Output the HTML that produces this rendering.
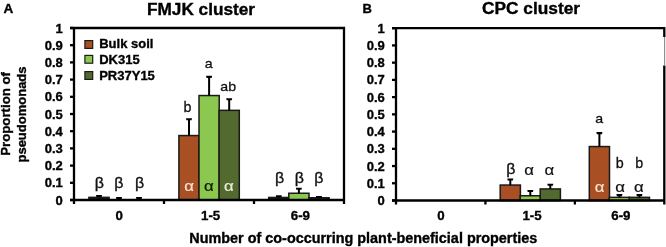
<!DOCTYPE html>
<html><head><meta charset="utf-8"><style>
html,body{margin:0;padding:0;background:#fff;width:666px;height:247px;overflow:hidden}
svg{display:block;will-change:transform;filter:blur(0.3px)}
</style></head><body>
<svg width="666" height="247" viewBox="0 0 666 247">
<style>
text{font-family:"Liberation Sans",sans-serif;}
.tl,.cl,.tt,.lg{stroke:#000;stroke-width:0.35px}
.ax{stroke:#000;stroke-width:2.3;fill:none}
.tl{font-weight:bold;font-size:13px}
.cl{font-weight:bold;font-size:13.3px}
.g,.gb{font-size:13.6px;stroke-width:0.3px}
.bt{font-size:15px;stroke-width:0.35px}
.al{font-size:16px;stroke-width:0.2px}
.tt{font-weight:bold;font-size:16px}
.lg{font-weight:bold;font-size:13px}
</style>
<text x="3.4" y="12.7" class="lg" style="font-size:13.5px">A</text>
<text x="362.5" y="12.7" class="lg">B</text>
<text x="147" y="14.8" class="tt" textLength="108" lengthAdjust="spacingAndGlyphs">FMJK cluster</text>
<text x="482" y="14.4" class="tt" textLength="98" lengthAdjust="spacingAndGlyphs">CPC cluster</text>
<g transform="translate(10.0 113.9) rotate(-90)"><text x="0" y="0" class="lg" text-anchor="middle" textLength="83.6" lengthAdjust="spacingAndGlyphs">Proportion of</text></g>
<g transform="translate(26.0 114.5) rotate(-90)"><text x="0" y="0" class="lg" text-anchor="middle">pseudomonads</text></g>
<text x="189.3" y="243" class="lg" style="font-size:14.1px" textLength="348" lengthAdjust="spacingAndGlyphs">Number of co-occurring plant-beneficial properties</text>
<rect x="88.90" y="197.35" width="20.20" height="2.65" fill="#1a1a1a" stroke="#1a1a1a" stroke-width="1.5"/>
<line x1="99.00" y1="196.00" x2="99.00" y2="197.35" stroke="#000" stroke-width="2"/>
<path d="M96.00 195.00 H102.00 L101.60 197.10 H96.40 Z" fill="#000"/>
<line x1="119.00" y1="198.10" x2="119.00" y2="198.80" stroke="#000" stroke-width="2"/>
<path d="M116.00 197.10 H122.00 L121.60 199.20 H116.40 Z" fill="#000"/>
<line x1="139.00" y1="198.10" x2="139.00" y2="198.80" stroke="#000" stroke-width="2"/>
<path d="M136.00 197.10 H142.00 L141.60 199.20 H136.40 Z" fill="#000"/>
<rect x="178.90" y="135.55" width="20.20" height="64.45" fill="#a84f24" stroke="#1a1a1a" stroke-width="1.5"/>
<line x1="189.00" y1="119.20" x2="189.00" y2="135.55" stroke="#000" stroke-width="2"/>
<path d="M186.00 118.20 H192.00 L191.60 120.30 H186.40 Z" fill="#000"/>
<rect x="199.00" y="95.55" width="20.20" height="104.45" fill="#8cc84f" stroke="#1a1a1a" stroke-width="1.5"/>
<line x1="209.10" y1="76.80" x2="209.10" y2="95.55" stroke="#000" stroke-width="2"/>
<path d="M206.10 75.80 H212.10 L211.70 77.90 H206.50 Z" fill="#000"/>
<rect x="219.10" y="110.35" width="20.20" height="89.65" fill="#526a2e" stroke="#1a1a1a" stroke-width="1.5"/>
<line x1="229.20" y1="99.20" x2="229.20" y2="110.35" stroke="#000" stroke-width="2"/>
<path d="M226.20 98.20 H232.20 L231.80 100.30 H226.60 Z" fill="#000"/>
<rect x="268.70" y="197.45" width="20.20" height="2.55" fill="#1a1a1a" stroke="#1a1a1a" stroke-width="1.5"/>
<line x1="278.80" y1="196.20" x2="278.80" y2="197.45" stroke="#000" stroke-width="2"/>
<path d="M275.80 195.20 H281.80 L281.40 197.30 H276.20 Z" fill="#000"/>
<rect x="288.80" y="193.25" width="20.20" height="6.75" fill="#8cc84f" stroke="#1a1a1a" stroke-width="1.5"/>
<line x1="298.90" y1="188.70" x2="298.90" y2="193.25" stroke="#000" stroke-width="2"/>
<path d="M295.90 187.70 H301.90 L301.50 189.80 H296.30 Z" fill="#000"/>
<rect x="308.90" y="197.75" width="20.20" height="2.25" fill="#1a1a1a" stroke="#1a1a1a" stroke-width="1.5"/>
<line x1="319.00" y1="196.90" x2="319.00" y2="197.75" stroke="#000" stroke-width="2"/>
<path d="M316.00 195.90 H322.00 L321.60 198.00 H316.40 Z" fill="#000"/>
<line x1="70" y1="200.00" x2="74" y2="200.00" class="ax"/>
<text x="62.8" y="204.60" class="tl" text-anchor="end">0</text>
<line x1="70" y1="182.80" x2="74" y2="182.80" class="ax"/>
<text x="62.8" y="187.40" class="tl" text-anchor="end">0.1</text>
<line x1="70" y1="165.60" x2="74" y2="165.60" class="ax"/>
<text x="62.8" y="170.20" class="tl" text-anchor="end">0.2</text>
<line x1="70" y1="148.40" x2="74" y2="148.40" class="ax"/>
<text x="62.8" y="153.00" class="tl" text-anchor="end">0.3</text>
<line x1="70" y1="131.20" x2="74" y2="131.20" class="ax"/>
<text x="62.8" y="135.80" class="tl" text-anchor="end">0.4</text>
<line x1="70" y1="114.00" x2="74" y2="114.00" class="ax"/>
<text x="62.8" y="118.60" class="tl" text-anchor="end">0.5</text>
<line x1="70" y1="96.80" x2="74" y2="96.80" class="ax"/>
<text x="62.8" y="101.40" class="tl" text-anchor="end">0.6</text>
<line x1="70" y1="79.60" x2="74" y2="79.60" class="ax"/>
<text x="62.8" y="84.20" class="tl" text-anchor="end">0.7</text>
<line x1="70" y1="62.40" x2="74" y2="62.40" class="ax"/>
<text x="62.8" y="67.00" class="tl" text-anchor="end">0.8</text>
<line x1="70" y1="45.20" x2="74" y2="45.20" class="ax"/>
<text x="62.8" y="49.80" class="tl" text-anchor="end">0.9</text>
<line x1="70" y1="28.00" x2="74" y2="28.00" class="ax"/>
<text x="62.8" y="32.60" class="tl" text-anchor="end">1</text>
<path d="M70 28 H344 V204 M74 28 V204 M70 200 H344" class="ax" fill="none"/>
<line x1="164.00" y1="200" x2="164.00" y2="204" class="ax"/>
<line x1="254.00" y1="200" x2="254.00" y2="204" class="ax"/>
<text x="119.10" y="219.6" class="cl" text-anchor="middle">0</text>
<text x="210.60" y="219.6" class="cl" text-anchor="middle">1-5</text>
<text x="300.40" y="219.6" class="cl" text-anchor="middle">6-9</text>
<text x="99.4" y="187.5" class="bt" style="font-size:15.2px" text-anchor="middle" fill="#111" stroke="#111" textLength="9.18" lengthAdjust="spacingAndGlyphs">β</text>
<text x="118.75" y="187.5" class="bt" style="font-size:15.2px" text-anchor="middle" fill="#111" stroke="#111" textLength="9.18" lengthAdjust="spacingAndGlyphs">β</text>
<text x="139.6" y="187.5" class="bt" style="font-size:15.2px" text-anchor="middle" fill="#111" stroke="#111" textLength="9.18" lengthAdjust="spacingAndGlyphs">β</text>
<text x="187.6" y="111.7" class="gb" style="font-size:14.6px" text-anchor="middle" fill="#111" stroke="#111" textLength="7.96" lengthAdjust="spacingAndGlyphs">b</text>
<text x="208.7" y="67.9" class="g" style="font-size:13.5px" text-anchor="middle" fill="#111" stroke="#111" textLength="7.88" lengthAdjust="spacingAndGlyphs">a</text>
<text x="228.2" y="90.9" class="g" style="font-size:13.5px" text-anchor="middle" fill="#111" stroke="#111" textLength="15.77" lengthAdjust="spacingAndGlyphs">ab</text>
<text x="189" y="190.8" class="al" style="font-size:14.7px" text-anchor="middle" fill="#f6e2d2" stroke="#f6e2d2" textLength="9.69" lengthAdjust="spacingAndGlyphs">α</text>
<text x="208.95" y="190.8" class="al" style="font-size:14.7px" text-anchor="middle" fill="#0c1a08" stroke="#0c1a08" textLength="9.69" lengthAdjust="spacingAndGlyphs">α</text>
<text x="228.85" y="190.8" class="al" style="font-size:14.7px" text-anchor="middle" fill="#e6eed8" stroke="#e6eed8" textLength="9.69" lengthAdjust="spacingAndGlyphs">α</text>
<text x="279.5" y="182.6" class="bt" style="font-size:15.2px" text-anchor="middle" fill="#111" stroke="#111" textLength="9.18" lengthAdjust="spacingAndGlyphs">β</text>
<text x="299.3" y="182.6" class="bt" style="font-size:15.2px" text-anchor="middle" fill="#111" stroke="#111" textLength="9.18" lengthAdjust="spacingAndGlyphs">β</text>
<text x="318.75" y="182.6" class="bt" style="font-size:15.2px" text-anchor="middle" fill="#111" stroke="#111" textLength="9.18" lengthAdjust="spacingAndGlyphs">β</text>
<rect x="500.20" y="185.05" width="20.20" height="15.45" fill="#a84f24" stroke="#1a1a1a" stroke-width="1.5"/>
<line x1="510.30" y1="179.50" x2="510.30" y2="185.05" stroke="#000" stroke-width="2"/>
<path d="M507.30 178.50 H513.30 L512.90 180.60 H507.70 Z" fill="#000"/>
<rect x="520.20" y="195.75" width="20.20" height="4.75" fill="#8cc84f" stroke="#1a1a1a" stroke-width="1.5"/>
<line x1="530.30" y1="190.90" x2="530.30" y2="195.75" stroke="#000" stroke-width="2"/>
<path d="M527.30 189.90 H533.30 L532.90 192.00 H527.70 Z" fill="#000"/>
<rect x="540.20" y="188.95" width="20.20" height="11.55" fill="#526a2e" stroke="#1a1a1a" stroke-width="1.5"/>
<line x1="550.30" y1="184.70" x2="550.30" y2="188.95" stroke="#000" stroke-width="2"/>
<path d="M547.30 183.70 H553.30 L552.90 185.80 H547.70 Z" fill="#000"/>
<rect x="589.30" y="146.55" width="20.20" height="53.95" fill="#a84f24" stroke="#1a1a1a" stroke-width="1.5"/>
<line x1="599.40" y1="133.10" x2="599.40" y2="146.55" stroke="#000" stroke-width="2"/>
<path d="M596.40 132.10 H602.40 L602.00 134.20 H596.80 Z" fill="#000"/>
<rect x="609.30" y="197.35" width="20.20" height="3.15" fill="#8cc84f" stroke="#1a1a1a" stroke-width="1.5"/>
<line x1="619.40" y1="195.10" x2="619.40" y2="197.35" stroke="#000" stroke-width="2"/>
<path d="M616.40 194.10 H622.40 L622.00 196.20 H616.80 Z" fill="#000"/>
<rect x="629.30" y="197.35" width="20.20" height="3.15" fill="#526a2e" stroke="#1a1a1a" stroke-width="1.5"/>
<line x1="639.40" y1="195.10" x2="639.40" y2="197.35" stroke="#000" stroke-width="2"/>
<path d="M636.40 194.10 H642.40 L642.00 196.20 H636.80 Z" fill="#000"/>
<line x1="392" y1="200.50" x2="396" y2="200.50" class="ax"/>
<text x="384.8" y="205.10" class="tl" text-anchor="end">0</text>
<line x1="392" y1="183.27" x2="396" y2="183.27" class="ax"/>
<text x="384.8" y="187.87" class="tl" text-anchor="end">0.1</text>
<line x1="392" y1="166.04" x2="396" y2="166.04" class="ax"/>
<text x="384.8" y="170.64" class="tl" text-anchor="end">0.2</text>
<line x1="392" y1="148.81" x2="396" y2="148.81" class="ax"/>
<text x="384.8" y="153.41" class="tl" text-anchor="end">0.3</text>
<line x1="392" y1="131.58" x2="396" y2="131.58" class="ax"/>
<text x="384.8" y="136.18" class="tl" text-anchor="end">0.4</text>
<line x1="392" y1="114.35" x2="396" y2="114.35" class="ax"/>
<text x="384.8" y="118.95" class="tl" text-anchor="end">0.5</text>
<line x1="392" y1="97.12" x2="396" y2="97.12" class="ax"/>
<text x="384.8" y="101.72" class="tl" text-anchor="end">0.6</text>
<line x1="392" y1="79.89" x2="396" y2="79.89" class="ax"/>
<text x="384.8" y="84.49" class="tl" text-anchor="end">0.7</text>
<line x1="392" y1="62.66" x2="396" y2="62.66" class="ax"/>
<text x="384.8" y="67.26" class="tl" text-anchor="end">0.8</text>
<line x1="392" y1="45.43" x2="396" y2="45.43" class="ax"/>
<text x="384.8" y="50.03" class="tl" text-anchor="end">0.9</text>
<line x1="392" y1="28.20" x2="396" y2="28.20" class="ax"/>
<text x="384.8" y="32.80" class="tl" text-anchor="end">1</text>
<path d="M392 28.2 H664.3 V37 M664.3 65.5 V204.5 M396 28.2 V204.5 M392 200.5 H664.3" class="ax" fill="none" stroke-linejoin="miter"/>
<line x1="664.5999999999999" y1="37" x2="664.5999999999999" y2="65.5" stroke="#8a8a8a" stroke-width="1.1"/>
<line x1="485.43" y1="200.5" x2="485.43" y2="204.5" class="ax"/>
<line x1="574.87" y1="200.5" x2="574.87" y2="204.5" class="ax"/>
<text x="441.00" y="220.4" class="cl" text-anchor="middle">0</text>
<text x="532.00" y="220.4" class="cl" text-anchor="middle">1-5</text>
<text x="620.90" y="220.4" class="cl" text-anchor="middle">6-9</text>
<text x="510.75" y="173.5" class="bt" style="font-size:15.2px" text-anchor="middle" fill="#111" stroke="#111" textLength="9.18" lengthAdjust="spacingAndGlyphs">β</text>
<text x="529.15" y="174.9" class="al" style="font-size:14.7px" text-anchor="middle" fill="#111" stroke="#111" textLength="9.69" lengthAdjust="spacingAndGlyphs">α</text>
<text x="549.35" y="174.9" class="al" style="font-size:14.7px" text-anchor="middle" fill="#111" stroke="#111" textLength="9.69" lengthAdjust="spacingAndGlyphs">α</text>
<text x="599.2" y="123.1" class="g" style="font-size:13.5px" text-anchor="middle" fill="#111" stroke="#111" textLength="7.88" lengthAdjust="spacingAndGlyphs">a</text>
<text x="619.75" y="167.5" class="gb" style="font-size:14.6px" text-anchor="middle" fill="#111" stroke="#111" textLength="7.96" lengthAdjust="spacingAndGlyphs">b</text>
<text x="639.35" y="167.5" class="gb" style="font-size:14.6px" text-anchor="middle" fill="#111" stroke="#111" textLength="7.96" lengthAdjust="spacingAndGlyphs">b</text>
<text x="599.6" y="191.8" class="al" style="font-size:14.7px" text-anchor="middle" fill="#f6e2d2" stroke="#f6e2d2" textLength="9.69" lengthAdjust="spacingAndGlyphs">α</text>
<text x="620.2" y="191.8" class="al" style="font-size:14.7px" text-anchor="middle" fill="#111" stroke="#111" textLength="9.69" lengthAdjust="spacingAndGlyphs">α</text>
<text x="638.9" y="191.8" class="al" style="font-size:14.7px" text-anchor="middle" fill="#111" stroke="#111" textLength="9.69" lengthAdjust="spacingAndGlyphs">α</text>
<rect x="84.9" y="40.6" width="7.8" height="7.8" fill="#a84f24" stroke="#1a1a1a" stroke-width="1.2"/>
<rect x="84.9" y="55.4" width="7.8" height="7.8" fill="#8cc84f" stroke="#1a1a1a" stroke-width="1.2"/>
<rect x="84.9" y="71.6" width="7.8" height="7.8" fill="#526a2e" stroke="#1a1a1a" stroke-width="1.2"/>
<text x="99.2" y="47.8" class="lg">Bulk soil</text>
<text x="99.2" y="63.6" class="lg">DK315</text>
<text x="99.2" y="80.0" class="lg">PR37Y15</text>
</svg>
</body></html>
